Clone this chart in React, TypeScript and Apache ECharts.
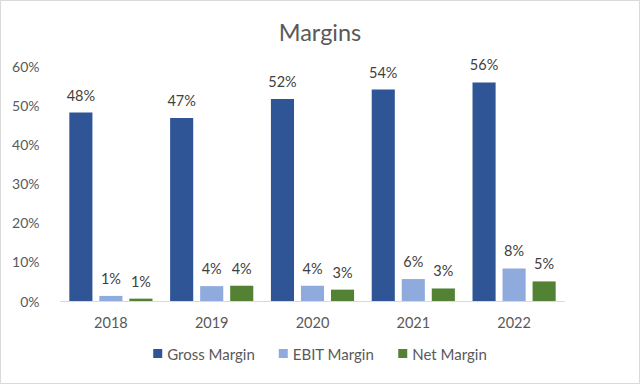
import React, { useEffect, useRef } from "react";
import * as echarts from "echarts";

const years = ["2018", "2019", "2020", "2021", "2022"];
const grossMargin = [48.1, 46.7, 51.6, 54.0, 55.8];
const ebitMargin = [1.3, 3.8, 3.9, 5.6, 8.3];
const netMargin = [0.6, 3.9, 2.9, 3.2, 5.0];
const yTicks = [0, 10, 20, 30, 40, 50, 60];

const FONT = "Lato, 'Open Sans', sans-serif";
const TEXT = "#595959";

export default function App() {
  const ref = useRef<HTMLDivElement>(null);

  useEffect(() => {
    if (!ref.current) return;
    const chart = echarts.init(ref.current, undefined, { renderer: "svg" });

    const label = {
      show: true,
      position: "top" as const,
      distance: 10,
      color: "#404040",
      fontFamily: FONT,
      fontSize: 14.5,
      formatter: (p: any) => `${Math.round(p.value)}%`,
    };

    const mkSeries = (name: string, data: number[], color: string) => ({
      name,
      type: "bar" as const,
      data,
      itemStyle: { color },
      label,
      barGap: "30%",
      barCategoryGap: "17.5%",
    });

    chart.setOption({
      animation: false,
      backgroundColor: "#ffffff",
      title: {
        text: "Margins",
        left: "center",
        top: 15,
        textStyle: { color: TEXT, fontFamily: FONT, fontSize: 23.5, fontWeight: "normal" },
      },
      graphic: [
        {
          type: "rect",
          shape: { x: 0.5, y: 0.5, width: 639, height: 383 },
          style: { fill: "none", stroke: "#d9d9d9", lineWidth: 1 },
          silent: true,
        },
      ],
      legend: {
        bottom: 18,
        left: "center",
        icon: "rect",
        itemWidth: 9,
        itemHeight: 9,
        itemGap: 24,
        textStyle: { color: TEXT, fontFamily: FONT, fontSize: 15 },
        data: ["Gross Margin", "EBIT Margin", "Net Margin"],
      },
      grid: { left: 60.5, right: 75.5, top: 66, bottom: 83 },
      xAxis: {
        type: "category",
        data: years,
        axisLine: { lineStyle: { color: "#d9d9d9" } },
        axisTick: { show: false },
        axisLabel: { color: TEXT, fontFamily: FONT, fontSize: 14.5, margin: 14 },
      },
      yAxis: {
        type: "value",
        min: yTicks[0],
        max: yTicks[yTicks.length - 1],
        interval: 10,
        splitLine: { show: false },
        axisLine: { show: false },
        axisTick: { show: false },
        axisLabel: {
          color: TEXT,
          fontFamily: FONT,
          fontSize: 14,
          margin: 21,
          formatter: (v: number) => `${v}%`,
        },
      },
      series: [
        mkSeries("Gross Margin", grossMargin, "#2f5597"),
        mkSeries("EBIT Margin", ebitMargin, "#8faadc"),
        mkSeries("Net Margin", netMargin, "#548235"),
      ],
    });

    return () => chart.dispose();
  }, []);

  return (
    <div
      ref={ref}
      style={{ position: "fixed", left: 0, top: 0, width: 640, height: 384 }}
    />
  );
}
